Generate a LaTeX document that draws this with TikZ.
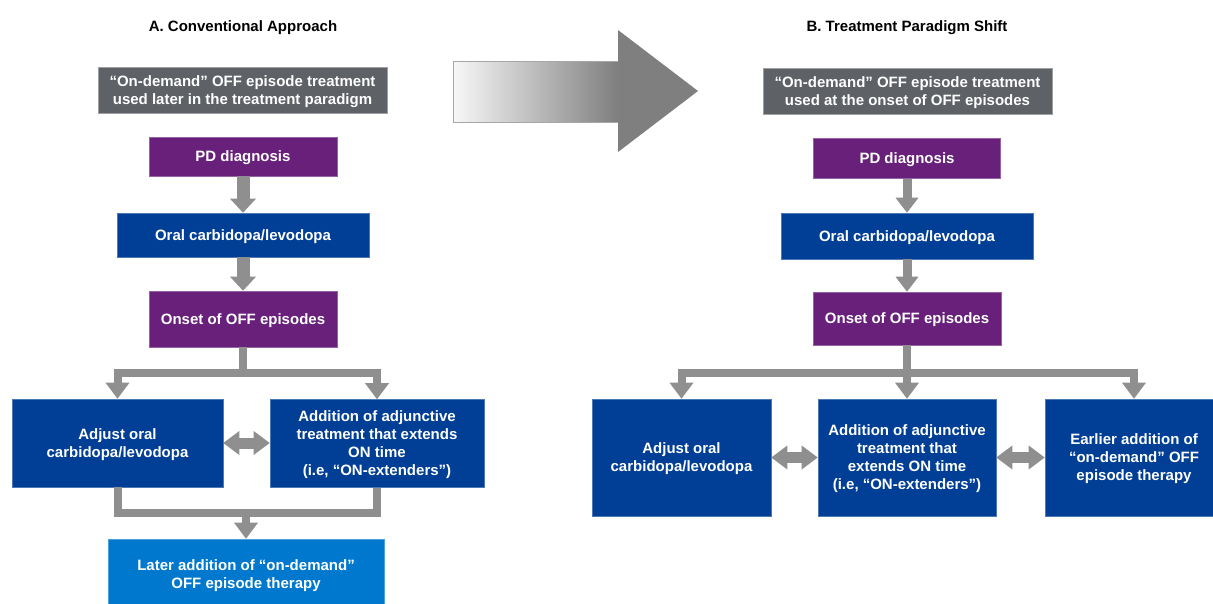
\documentclass[tikz,border=0pt]{standalone}
\usepackage{fontspec}
\setmainfont{Liberation Sans}
\usetikzlibrary{arrows.meta,calc}
\definecolor{cgray}{HTML}{8F8F8F}
\definecolor{hgray}{HTML}{5E6166}
\definecolor{ppurple}{HTML}{68207A}
\definecolor{dblue}{HTML}{003F95}
\definecolor{lblue}{HTML}{0078CE}
\definecolor{agray}{HTML}{7F7F7F}
\tikzset{
  box/.style={inner sep=0pt, align=center, text=white, text depth=0pt, font=\bfseries\fontsize{15}{18}\selectfont},
  hbox/.style={box, fill=hgray, draw=hgray!60!white, line width=0.8pt},
  pbox/.style={box, fill=ppurple, draw=ppurple!70!white, line width=0.6pt},
  bbox/.style={box, fill=dblue, draw=dblue!70!white, line width=0.6pt},
  lbox/.style={box, fill=lblue, draw=lblue!70!white, line width=0.6pt},
  title/.style={font=\bfseries\fontsize{15}{17}\selectfont, text=black, text depth=0pt},
  connL/.style={draw=cgray, line width=13pt, -{Triangle[width=26pt,length=14pt,line width=0pt]}},
  connR/.style={draw=cgray, line width=9pt, -{Triangle[width=23pt,length=15pt,line width=0pt]}},
  line8/.style={draw=cgray, line width=8pt, line join=miter},
  conn8/.style={line8, -{Triangle[width=24pt,length=16pt,line width=0pt]}},
  dbl/.style={draw=cgray, line width=11pt, {Triangle[width=24pt,length=16pt,line width=0pt]}-{Triangle[width=24pt,length=16pt,line width=0pt]}}
}
\begin{document}
\begin{tikzpicture}[x=1pt,y=-1pt]
\useasboundingbox (0,0) rectangle (1213,603);

% titles
\node[title] (tA) at (243,26) {A. Conventional Approach};
\node[title] (tB) at (907,26) {B. Treatment Paradigm Shift};

% big gradient arrow
\shade[left color=black!3, right color=agray] (453,61) rectangle (618,122);
\fill[agray] (618,30) -- (698,91) -- (618,152) -- cycle;
\draw[black!35, line width=0.7pt] (618,61) -- (453,61) -- (453,122) -- (618,122);

% left column
\node[hbox, minimum width=289pt, minimum height=46pt] (grayA) at (242.5,90)
  {\textquotedblleft On-demand\textquotedblright\ OFF episode treatment\\used later in the treatment paradigm};
\node[pbox, minimum width=188pt, minimum height=39pt] (pdA) at (243,156.5) {PD diagnosis};
\node[bbox, minimum width=252pt, minimum height=44pt] (oralA) at (243,235) {Oral carbidopa/levodopa};
\node[pbox, minimum width=188pt, minimum height=56pt] (onsetA) at (243,319) {Onset of OFF episodes};
\node[bbox, minimum width=211pt, minimum height=88pt] (adjA) at (117.5,443) {Adjust oral\\carbidopa/levodopa};
\node[bbox, minimum width=214pt, minimum height=88pt] (addA) at (377,443.5)
  {Addition of adjunctive\\treatment that extends\\ON time\\(i.e, \textquotedblleft ON-extenders\textquotedblright)};
\node[lbox, minimum width=276pt, minimum height=70pt] (laterA) at (246,574)
  {Later addition of \textquotedblleft on-demand\textquotedblright\\OFF episode therapy};

\coordinate (jA) at (243,373);
\coordinate (mA) at (246,513);
\draw[connL] (pdA.south) -- (oralA.north);
\draw[connL] (oralA.south) -- (onsetA.north);
\draw[line8] (onsetA.south) -- (jA);
\draw[conn8] (jA) -| (adjA.north);
\draw[conn8] (jA) -| (addA.north);
\draw[dbl] (adjA.east) -- (addA.west |- adjA.east);
\draw[line8] (adjA.south) -- (adjA.south |- mA) -- (addA.south |- mA) -- (addA.south);
\draw[conn8] (mA) -- (laterA.north);

% right column
\node[hbox, minimum width=289pt, minimum height=46pt] (grayB) at (907.5,91)
  {\textquotedblleft On-demand\textquotedblright\ OFF episode treatment\\used at the onset of OFF episodes};
\node[pbox, minimum width=187pt, minimum height=40pt] (pdB) at (907,158.5) {PD diagnosis};
\node[bbox, minimum width=252pt, minimum height=46pt] (oralB) at (907,236) {Oral carbidopa/levodopa};
\node[pbox, minimum width=188pt, minimum height=53pt] (onsetB) at (907,318.5) {Onset of OFF episodes};
\node[bbox, minimum width=179pt, minimum height=117pt] (adjB) at (681.5,457.5) {Adjust oral\\carbidopa/levodopa};
\node[bbox, minimum width=178pt, minimum height=117pt] (addB) at (907,457.5)
  {Addition of adjunctive\\treatment that\\extends ON time\\(i.e, \textquotedblleft ON-extenders\textquotedblright)};
\node[bbox, minimum width=178pt, minimum height=117pt] (earlB) at (1134,457.5)
  {Earlier addition of\\\textquotedblleft on-demand\textquotedblright\ OFF\\episode therapy};

\coordinate (jB) at (907,373);
\draw[connR] (pdB.south) -- (oralB.north);
\draw[connR] (oralB.south) -- (onsetB.north);
\draw[line8] (onsetB.south) -- (jB);
\draw[conn8] (jB) -| (adjB.north);
\draw[conn8] (jB) -- (addB.north);
\draw[conn8] (jB) -| (earlB.north);
\draw[dbl] (adjB.east) -- (addB.west);
\draw[dbl] (addB.east) -- (earlB.west);
\end{tikzpicture}
\end{document}
